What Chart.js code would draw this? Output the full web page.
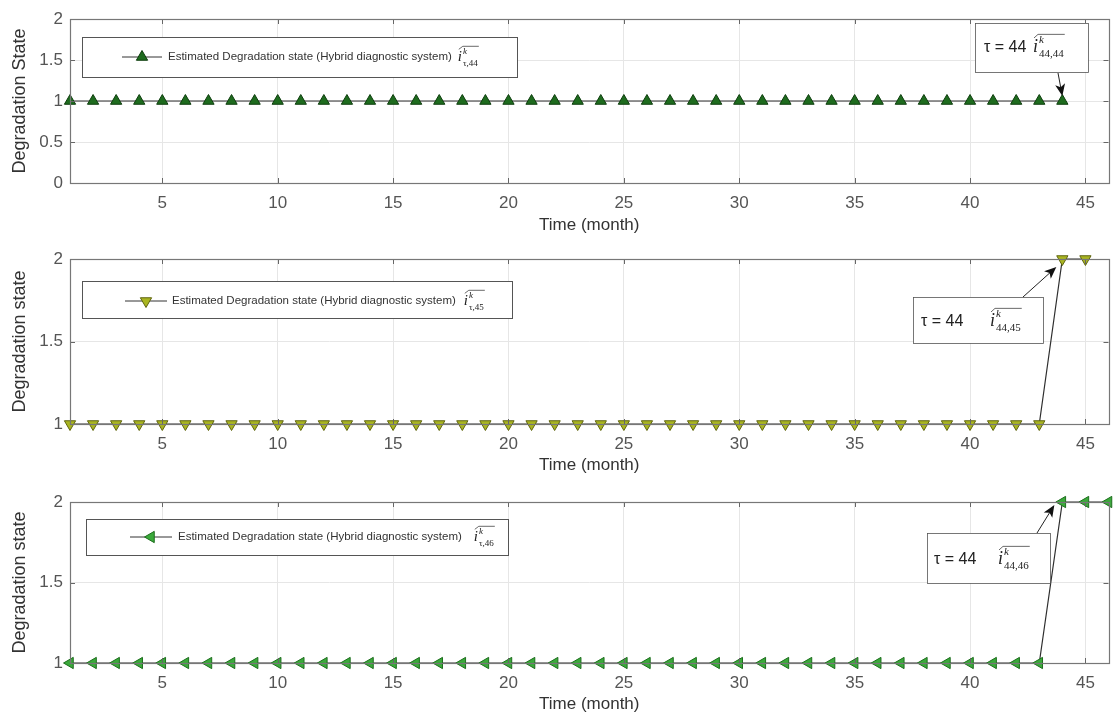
<!DOCTYPE html>
<html>
<head>
<meta charset="utf-8">
<script src="https://cdn.jsdelivr.net/npm/chart.js@4.4.1/dist/chart.umd.min.js"></script>
<style>
  html, body { margin: 0; padding: 0; background: #fff; width: 1113px; height: 715px; overflow: hidden; position: relative; }
  canvas { position: absolute; left: 0; }
</style>
</head>
<body>
<canvas id="p1" width="1116" height="236" style="top:0px"></canvas>
<canvas id="p2" width="1116" height="236" style="top:240px"></canvas>
<canvas id="p3" width="1116" height="235" style="top:480px"></canvas>
<script>
// months on the x axis
var months = [1, 2, 3, 4, 5, 6, 7, 8, 9, 10, 11, 12, 13, 14, 15, 16, 17, 18, 19, 20, 21, 22, 23,
  24, 25, 26, 27, 28, 29, 30, 31, 32, 33, 34, 35, 36, 37, 38, 39, 40, 41, 42, 43, 44, 45, 46];

// estimated degradation state, one series per panel
var stateTau44 = [1, 1, 1, 1, 1, 1, 1, 1, 1, 1, 1, 1, 1, 1, 1, 1, 1, 1, 1, 1, 1, 1,
  1, 1, 1, 1, 1, 1, 1, 1, 1, 1, 1, 1, 1, 1, 1, 1, 1, 1, 1, 1, 1, 1];
var stateTau45 = [1, 1, 1, 1, 1, 1, 1, 1, 1, 1, 1, 1, 1, 1, 1, 1, 1, 1, 1, 1, 1, 1,
  1, 1, 1, 1, 1, 1, 1, 1, 1, 1, 1, 1, 1, 1, 1, 1, 1, 1, 1, 1, 1, 2, 2];
var stateTau46 = [1, 1, 1, 1, 1, 1, 1, 1, 1, 1, 1, 1, 1, 1, 1, 1, 1, 1, 1, 1, 1, 1,
  1, 1, 1, 1, 1, 1, 1, 1, 1, 1, 1, 1, 1, 1, 1, 1, 1, 1, 1, 1, 1, 2, 2, 2];

// tick labels
var xTickVals = [5, 10, 15, 20, 25, 30, 35, 40, 45];
var yTicksTop = [0, 0.5, 1, 1.5, 2];
var yTicksLower = [1, 1.5, 2];

var FONT = '"Liberation Sans", Arial, sans-serif';
var SERIF = '"Liberation Serif", "DejaVu Serif", serif';

function pairs(vals) {
  return vals.map(function (v, i) { return { x: months[i], y: v }; });
}

function triangle(ctx, x, y, r, rot, fill, edge) {
  ctx.save();
  ctx.translate(x, y);
  ctx.rotate(rot * Math.PI / 180);
  ctx.beginPath();
  ctx.moveTo(0, -r);
  ctx.lineTo(r * 0.87, r * 0.5);
  ctx.lineTo(-r * 0.87, r * 0.5);
  ctx.closePath();
  ctx.fillStyle = fill;
  ctx.fill();
  ctx.strokeStyle = edge;
  ctx.lineWidth = 1;
  ctx.stroke();
  ctx.restore();
}

// i with wide hat, superscript k and a subscript
function hatI(ctx, x, y, sub, s) {
  ctx.fillStyle = '#222';
  ctx.textAlign = 'left';
  ctx.textBaseline = 'alphabetic';
  ctx.font = 'italic ' + s + 'px ' + SERIF;
  ctx.fillText('i', x, y);
  var iw = ctx.measureText('i').width;
  ctx.font = 'italic ' + Math.round(s * 0.62) + 'px ' + SERIF;
  ctx.fillText('k', x + iw + 1, y - s * 0.5);
  ctx.font = Math.round(s * 0.62) + 'px ' + SERIF;
  ctx.fillText(sub, x + iw + 1, y + s * 0.3);
  var sw = ctx.measureText(sub).width;
  ctx.beginPath();
  ctx.strokeStyle = '#444';
  ctx.lineWidth = 0.8;
  ctx.moveTo(x + 1, y - s * 0.78);
  ctx.lineTo(x + 5, y - s * 0.98);
  ctx.lineTo(x + iw + sw + 2, y - s * 0.98);
  ctx.stroke();
}

function arrow(ctx, x0, y0, x1, y1) {
  var a = Math.atan2(y1 - y0, x1 - x0);
  ctx.save();
  ctx.strokeStyle = '#222';
  ctx.fillStyle = '#111';
  ctx.lineWidth = 1;
  ctx.beginPath();
  ctx.moveTo(x0, y0);
  ctx.lineTo(x1 - Math.cos(a) * 8, y1 - Math.sin(a) * 8);
  ctx.stroke();
  ctx.translate(x1, y1);
  ctx.rotate(a);
  ctx.beginPath();
  ctx.moveTo(0, 0);
  ctx.lineTo(-12, -5);
  ctx.lineTo(-9, 0);
  ctx.lineTo(-12, 5);
  ctx.closePath();
  ctx.fill();
  ctx.restore();
}

var panelDecor = {
  id: 'panelDecor',
  afterDraw: function (chart, args, o) {
    var ctx = chart.ctx, ca = chart.chartArea;
    var xs = chart.scales.x, ys = chart.scales.y;
    ctx.save();
    // inward tick marks
    ctx.strokeStyle = '#666';
    ctx.lineWidth = 1;
    ctx.beginPath();
    xs.ticks.forEach(function (t) {
      var px = Math.round(xs.getPixelForValue(t.value)) + 0.5;
      ctx.moveTo(px, ca.bottom); ctx.lineTo(px, ca.bottom - 5);
      ctx.moveTo(px, ca.top); ctx.lineTo(px, ca.top + 5);
    });
    ys.ticks.forEach(function (t) {
      var py = Math.round(ys.getPixelForValue(t.value)) + 0.5;
      ctx.moveTo(ca.left, py); ctx.lineTo(ca.left + 5, py);
      ctx.moveTo(ca.right, py); ctx.lineTo(ca.right - 5, py);
    });
    ctx.stroke();
    // axes box
    ctx.strokeStyle = '#777';
    ctx.lineWidth = 1.2;
    ctx.strokeRect(Math.round(ca.left) + 0.5, Math.round(ca.top) + 0.5,
      Math.round(ca.right - ca.left), Math.round(ca.bottom - ca.top));

    // legend
    var L = o.legend;
    ctx.fillStyle = '#fff';
    ctx.fillRect(L.x, L.y, L.w, L.h);
    ctx.strokeStyle = '#555';
    ctx.lineWidth = 1;
    ctx.strokeRect(L.x + 0.5, L.y + 0.5, L.w, L.h);
    ctx.beginPath();
    ctx.strokeStyle = '#333';
    ctx.moveTo(L.x0, L.my); ctx.lineTo(L.x1, L.my);
    ctx.stroke();
    triangle(ctx, (L.x0 + L.x1) / 2, L.my, 6.5, o.rot, o.fill, o.edge);
    ctx.fillStyle = '#333';
    ctx.font = '11.5px ' + FONT;
    ctx.textAlign = 'left';
    ctx.textBaseline = 'middle';
    var txt = 'Estimated Degradation state (Hybrid diagnostic system)';
    ctx.fillText(txt, L.tx, L.my);
    var tw = ctx.measureText(txt).width;
    hatI(ctx, L.tx + tw + L.gap, L.my + 4, L.sub, 15);

    // annotation
    var A = o.note;
    ctx.fillStyle = '#fff';
    ctx.fillRect(A.x, A.y, A.w, A.h);
    ctx.strokeStyle = '#555';
    ctx.strokeRect(A.x + 0.5, A.y + 0.5, A.w, A.h);
    ctx.fillStyle = '#222';
    ctx.font = '16px ' + FONT;
    ctx.textAlign = 'left';
    ctx.textBaseline = 'alphabetic';
    ctx.fillText('\u03c4 = 44', A.tx, A.base);
    hatI(ctx, A.ix, A.base, A.sub, 18);
    var tipX = xs.getPixelForValue(A.px) + A.dx;
    var tipY = ys.getPixelForValue(A.py) + A.dy;
    arrow(ctx, A.fx, A.fy, tipX, tipY);
    ctx.restore();
  }
};

function makePanel(id, cfg) {
  return new Chart(document.getElementById(id), {
    type: 'line',
    data: {
      datasets: [{
        data: pairs(cfg.values),
        borderColor: '#2e2e2e',
        borderWidth: 1.2,
        pointStyle: 'triangle',
        rotation: cfg.rot,
        pointRadius: 6.5,
        pointBackgroundColor: cfg.fill,
        pointBorderColor: cfg.edge,
        pointBorderWidth: 1,
        tension: 0,
        clip: false
      }]
    },
    options: {
      responsive: false,
      animation: false,
      devicePixelRatio: 1,
      layout: { padding: { top: cfg.padTop, right: 1, left: 0, bottom: 0 } },
      plugins: {
        legend: { display: false },
        tooltip: { enabled: false },
        panelDecor: { legend: cfg.legend, note: cfg.note, rot: cfg.rot, fill: cfg.fill, edge: cfg.edge }
      },
      scales: {
        x: {
          type: 'linear', min: 1, max: 46,
          afterBuildTicks: function (a) { a.ticks = xTickVals.map(function (v) { return { value: v }; }); },
          afterFit: function (s) { s.height = cfg.xH; },
          grid: { color: '#e6e6e6', drawTicks: false },
          border: { display: false },
          ticks: { padding: 10, color: '#555', font: { family: FONT, size: 17 }, maxRotation: 0,
            callback: function (v) { return String(v); } },
          title: { display: true, text: 'Time (month)', color: '#333', font: { family: FONT, size: 17 },
            padding: { top: 0, bottom: 0 } }
        },
        y: {
          min: cfg.yMin, max: 2,
          afterBuildTicks: function (a) { a.ticks = cfg.yTicks.map(function (v) { return { value: v }; }); },
          afterFit: function (s) { s.width = 70; },
          grid: { color: '#e6e6e6', drawTicks: false },
          border: { display: false },
          ticks: { padding: 7, color: '#555', font: { family: FONT, size: 17 },
            callback: function (v) { return String(v); } },
          title: { display: true, text: cfg.yTitle, color: '#333', font: { family: FONT, size: 18 },
            padding: { top: 9, bottom: 0 } }
        }
      }
    },
    plugins: [panelDecor]
  });
}

makePanel('p1', {
  values: stateTau44, rot: 0, fill: '#1e6b1e', edge: '#0d3d0d',
  yMin: 0, yTicks: yTicksTop, yTitle: 'Degradation State', padTop: 19, xH: 53,
  legend: { x: 82, y: 37, w: 435, h: 40, x0: 122, x1: 162, my: 57, tx: 168, gap: 6, sub: '\u03c4,44' },
  note: { x: 975, y: 23, w: 113, h: 49, tx: 984, base: 52, ix: 1033, sub: '44,44',
    px: 44, py: 1, dx: 0, dy: -5, fx: 1058, fy: 73 }
});

makePanel('p2', {
  values: stateTau45, rot: 180, fill: '#a9b520', edge: '#5f6410',
  yMin: 1, yTicks: yTicksLower, yTitle: 'Degradation state', padTop: 19, xH: 52,
  legend: { x: 82, y: 41, w: 430, h: 37, x0: 125, x1: 167, my: 61, tx: 172, gap: 8, sub: '\u03c4,45' },
  note: { x: 913, y: 57, w: 130, h: 46, tx: 921, base: 86, ix: 990, sub: '44,45',
    px: 44, py: 2, dx: -6, dy: 8, fx: 1023, fy: 57 }
});

makePanel('p3', {
  values: stateTau46, rot: -90, fill: '#3aaa3a', edge: '#1f6e1f',
  yMin: 1, yTicks: yTicksLower, yTitle: 'Degradation state', padTop: 22, xH: 52,
  legend: { x: 86, y: 39, w: 422, h: 36, x0: 130, x1: 172, my: 57, tx: 178, gap: 12, sub: '\u03c4,46' },
  note: { x: 927, y: 53, w: 123, h: 50, tx: 934, base: 84, ix: 998, sub: '44,46',
    px: 44, py: 2, dx: -8, dy: 3, fx: 1037, fy: 53 }
});
</script>
</body>
</html>
